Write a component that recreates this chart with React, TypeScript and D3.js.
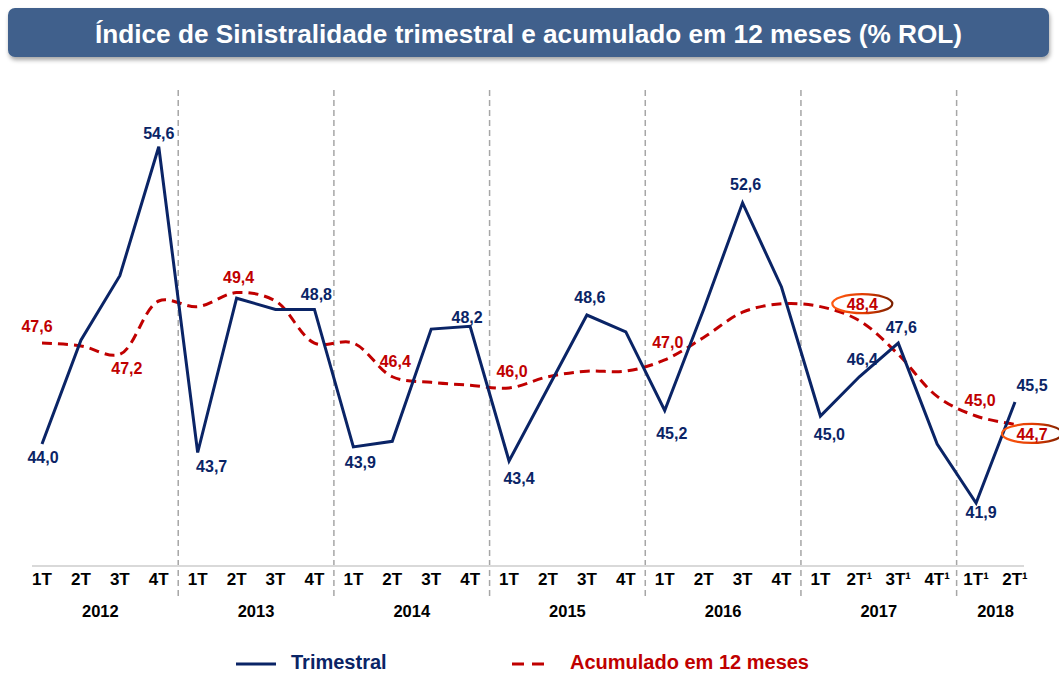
import React from "react";
import * as d3 from "d3";

// ---------- data ----------
const quarterLabels = [
  "1T", "2T", "3T", "4T",
  "1T", "2T", "3T", "4T",
  "1T", "2T", "3T", "4T",
  "1T", "2T", "3T", "4T",
  "1T", "2T", "3T", "4T",
  "1T", "2T¹", "3T¹", "4T¹",
  "1T¹", "2T¹",
];
const years = ["2012", "2013", "2014", "2015", "2016", "2017", "2018"];
const quartersPerYear = [4, 4, 4, 4, 4, 4, 2];

const trimestral = [
  44.0, 47.7, 50.0, 54.6,
  43.7, 49.2, 48.8, 48.8,
  43.9, 44.1, 48.1, 48.2,
  43.4, 46.0, 48.6, 48.0,
  45.2, 48.8, 52.6, 49.6,
  45.0, 46.4, 47.6, 44.0,
  41.9, 45.5,
];
const acumulado = [
  47.6, 47.5, 47.2, 49.1,
  48.9, 49.4, 49.1, 47.6,
  47.6, 46.4, 46.2, 46.1,
  46.0, 46.4, 46.6, 46.6,
  47.0, 47.8, 48.7, 49.0,
  48.9, 48.4, 47.2, 45.7,
  45.0, 44.7,
];
const trimestralLabeled = [0, 3, 4, 7, 8, 11, 12, 14, 16, 18, 20, 21, 22, 24, 25];
const acumuladoLabeled = [0, 2, 5, 9, 12, 16, 21, 24, 25];
const acumuladoCircled = [21, 25];

// ---------- layout (label offsets from the point, in px) ----------
const trimOffsets: Record<number, [number, number]> = {
  0: [1, 13], 3: [0, -13], 4: [14, 14], 7: [2, -15], 8: [7, 16], 11: [-3, -9],
  12: [10, 18], 14: [3, -18], 16: [7, 23], 18: [3, -18], 20: [9, 18],
  21: [3, -17], 22: [3, -16], 24: [5, 9], 25: [17, -17],
};
const acumOffsets: Record<number, [number, number]> = {
  0: [-5, -17], 2: [7, 14], 5: [2, -15], 9: [3, -15], 12: [3, -16],
  16: [3, -17], 21: [3, -16], 24: [4, -16], 25: [17, 10],
};

const W = 1059;
const H = 673;
const NAVY = "#0A2466";
const RED = "#C00000";
const FONT = "'Liberation Sans', Arial, sans-serif";

const fmt = (v: number) => d3.format(".1f")(v).replace(".", ",");

export default function App() {
  const x = d3.scaleLinear().domain([0, trimestral.length - 1]).range([42, 1015]);
  const y = d3.scaleLinear().domain([41.9, 54.6]).range([503, 146.7]);
  const axisY = 566;

  const trimLine = d3
    .line<number>()
    .x((_, i) => x(i))
    .y((d) => y(d))(trimestral) as string;
  const acumLine = d3
    .line<number>()
    .x((_, i) => x(i))
    .y((d) => y(d))
    .curve(d3.curveCatmullRom.alpha(0.5))(acumulado) as string;

  let start = 0;
  const yearGroups = years.map((yr, k) => {
    const s = start;
    const e = start + quartersPerYear[k] - 1;
    start += quartersPerYear[k];
    return { yr, s, e };
  });
  const separators = yearGroups.slice(1).map((g) => x(g.s - 0.5));

  return (
    <svg
      width={W}
      height={H}
      style={{ position: "absolute", left: 0, top: 0, background: "#fff" }}
      fontFamily={FONT}
    >
      <defs>
        <filter id="shadow" x="-5%" y="-30%" width="110%" height="170%">
          <feDropShadow dx="1" dy="3" stdDeviation="2" floodColor="#000" floodOpacity="0.35" />
        </filter>
        <linearGradient id="ring" x1="0" y1="0" x2="1" y2="0">
          <stop offset="0%" stopColor="#FF5A10" />
          <stop offset="55%" stopColor="#E03A00" />
          <stop offset="100%" stopColor="#7A2000" />
        </linearGradient>
      </defs>

      {/* title banner */}
      <rect x={8} y={8} width={1041} height={49} rx={7} fill="#40618C" filter="url(#shadow)" />
      <text
        x={528.5}
        y={42.5}
        textAnchor="middle"
        fill="#fff"
        fontWeight="bold"
        fontSize={26}
        textLength={867}
        lengthAdjust="spacingAndGlyphs"
      >
        Índice de Sinistralidade trimestral e acumulado em 12 meses (% ROL)
      </text>

      {/* year separators */}
      {separators.map((sx, i) => (
        <line
          key={i}
          x1={sx}
          x2={sx}
          y1={90}
          y2={597}
          stroke="#A6A6A6"
          strokeWidth={1.5}
          strokeDasharray="6,4"
        />
      ))}

      {/* axis line */}
      <line x1={32} x2={1024} y1={axisY} y2={axisY} stroke="#D9D9D9" strokeWidth={2} />

      {/* quarter labels */}
      {quarterLabels.map((q, i) => (
        <text
          key={i}
          x={x(i)}
          y={585}
          textAnchor="middle"
          fontWeight="bold"
          fontSize={17}
          fill="#000"
        >
          {q}
        </text>
      ))}
      {/* year labels */}
      {yearGroups.map((g) => (
        <text
          key={g.yr}
          x={(x(g.s) + x(g.e)) / 2}
          y={617}
          textAnchor="middle"
          fontWeight="bold"
          fontSize={16.5}
          fill="#000"
        >
          {g.yr}
        </text>
      ))}

      {/* series */}
      <path d={acumLine} fill="none" stroke={RED} strokeWidth={3} strokeDasharray="10,6" />
      <path d={trimLine} fill="none" stroke={NAVY} strokeWidth={3} strokeLinejoin="miter" />

      {/* circled accumulated values */}
      {acumuladoCircled.map((i) => {
        const [dx, dy] = acumOffsets[i];
        return (
          <ellipse
            key={i}
            cx={x(i) + dx}
            cy={y(acumulado[i]) + dy - 1}
            rx={30}
            ry={9.5}
            fill="none"
            stroke="url(#ring)"
            strokeWidth={2.2}
          />
        );
      })}

      {/* labels */}
      {trimestralLabeled.map((i) => {
        const [dx, dy] = trimOffsets[i];
        return (
          <text
            key={"t" + i}
            x={x(i) + dx}
            y={y(trimestral[i]) + dy + 5.5}
            textAnchor="middle"
            fontWeight="bold"
            fontSize={16}
            fill={NAVY}
          >
            {fmt(trimestral[i])}
          </text>
        );
      })}
      {acumuladoLabeled.map((i) => {
        const [dx, dy] = acumOffsets[i];
        return (
          <text
            key={"a" + i}
            x={x(i) + dx}
            y={y(acumulado[i]) + dy + 5.5}
            textAnchor="middle"
            fontWeight="bold"
            fontSize={16}
            fill={RED}
          >
            {fmt(acumulado[i])}
          </text>
        );
      })}

      {/* legend */}
      <line x1={236} x2={276} y1={664} y2={664} stroke={NAVY} strokeWidth={3} />
      <text x={291} y={669} fontWeight="bold" fontSize={20} fill={NAVY}>
        Trimestral
      </text>
      <line
        x1={512}
        x2={552}
        y1={664}
        y2={664}
        stroke={RED}
        strokeWidth={3}
        strokeDasharray="12,8"
      />
      <text x={570} y={669} fontWeight="bold" fontSize={20} fill={RED}>
        Acumulado em 12 meses
      </text>
    </svg>
  );
}
